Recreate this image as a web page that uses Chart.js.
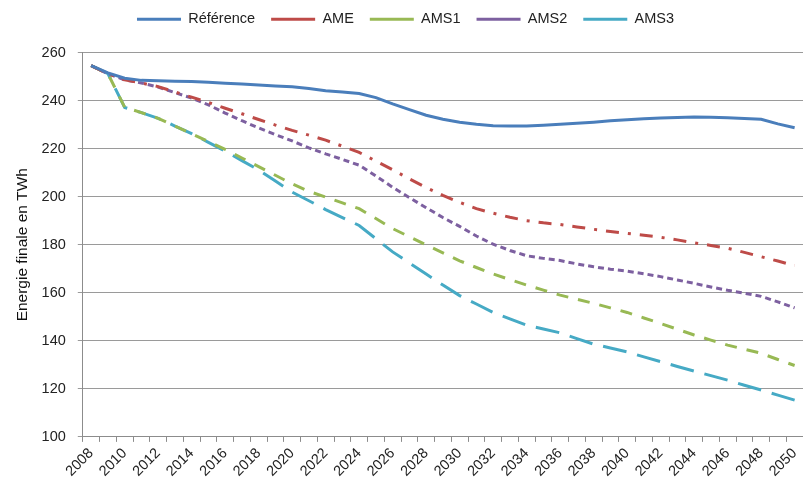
<!DOCTYPE html>
<html>
<head>
<meta charset="utf-8">
<script src="https://cdn.jsdelivr.net/npm/chart.js@4.4.1/dist/chart.umd.min.js"></script>
<style>
  html, body { margin: 0; padding: 0; background: #fff; }
  #chart { display: block; }
</style>
</head>
<body>
<canvas id="chart" width="803" height="488"></canvas>
<script>
// Years 2008 -> 2050
const years = [];
for (let y = 2008; y <= 2050; y++) years.push(String(y));

const reference = [254.5, 251.5, 249.3, 248.4, 248.2, 248.0, 247.9, 247.6, 247.2, 246.9,
  246.5, 246.1, 245.7, 245.0, 244.1, 243.6, 242.9, 241.2, 238.6, 236.2,
  233.9, 232.2, 231.0, 230.1, 229.5, 229.4, 229.4, 229.7, 230.1, 230.5,
  231.0, 231.6, 232.0, 232.4, 232.7, 232.9, 233.2, 233.0, 232.8, 232.5,
  232.2, 230.3, 228.7];
const ame = [254.5, 251.2, 248.6, 247.3, 245.8, 243.6, 241.4, 239.2, 236.8, 234.5,
  232.1, 229.8, 227.6, 225.6, 223.5, 221.0, 218.4, 214.8, 211.2, 207.4,
  203.8, 200.5, 197.6, 195.0, 193.1, 191.4, 190.0, 189.1, 188.4, 187.4,
  186.4, 185.5, 184.7, 183.9, 183.1, 182.0, 180.8, 179.7, 178.5, 176.8,
  175.0, 173.2, 171.3];
const ams1 = [254.5, 251.2, 237.2, 235.0, 232.6, 229.4, 226.2, 222.9, 219.7, 216.1,
  212.5, 208.9, 205.3, 202.2, 199.8, 197.4, 195.0, 190.9, 186.7, 183.3,
  179.9, 176.6, 173.3, 170.5, 167.8, 165.5, 163.2, 161.1, 159.0, 157.3,
  155.6, 153.7, 151.8, 149.5, 147.2, 144.8, 142.4, 140.3, 138.2, 136.5,
  134.8, 132.2, 129.7];
const ams2 = [254.5, 251.2, 248.6, 247.3, 245.6, 243.3, 241.0, 238.2, 234.8, 231.6,
  228.6, 225.8, 223.2, 220.3, 217.8, 215.5, 213.1, 208.6, 203.9, 199.6,
  195.4, 191.3, 187.6, 183.6, 180.2, 177.6, 175.4, 174.3, 173.4, 172.0,
  170.8, 169.8, 169.0, 167.9, 166.7, 165.3, 163.9, 162.4, 161.0, 159.8,
  158.5, 156.2, 153.7];
const ams3 = [254.5, 251.2, 237.1, 235.0, 232.6, 229.4, 226.2, 222.6, 219.0, 215.0,
  211.1, 206.5, 201.9, 198.3, 194.6, 191.3, 188.0, 182.5, 177.0, 172.4,
  167.8, 163.2, 158.8, 155.3, 151.8, 149.1, 146.5, 144.9, 143.3, 140.9,
  138.6, 137.0, 135.4, 133.3, 131.3, 129.3, 127.4, 125.5, 123.6, 121.5,
  119.5, 117.4, 115.3];

const FONT = "'Liberation Sans', Arial, sans-serif";

function line(label, data, color, dash) {
  return {
    label: label,
    data: data,
    borderColor: color,
    backgroundColor: color,
    borderWidth: 3,
    borderDash: dash,
    pointRadius: 0,
    pointHoverRadius: 0,
    tension: 0,
    fill: false
  };
}

// extra room under the legend
const legendSpacer = {
  id: 'legendSpacer',
  beforeLayout(chart) {
    const lg = chart.legend;
    if (lg && !lg._spaced) {
      const fit = lg.fit;
      lg.fit = function () { fit.call(this); this.height += 16; };
      lg._spaced = true;
    }
  }
};

const ctx = document.getElementById('chart').getContext('2d');
new Chart(ctx, {
  type: 'line',
  data: {
    labels: years,
    datasets: [
      line('Référence', reference, '#4A7EBB', []),
      line('AME', ame, '#BE4B48', [13, 9, 3, 9]),
      line('AMS1', ams1, '#98B954', [12, 10]),
      line('AMS2', ams2, '#7D60A0', [6, 4]),
      line('AMS3', ams3, '#46AAC5', [24, 11])
    ]
  },
  plugins: [legendSpacer],
  options: {
    responsive: false,
    animation: false,
    layout: { padding: { top: -4, right: 0, left: 8, bottom: 5 } },
    plugins: {
      legend: {
        position: 'top',
        labels: {
          usePointStyle: true,
          pointStyle: 'line',
          pointStyleWidth: 44,
          boxHeight: 14,
          padding: 16,
          color: '#222',
          font: { family: FONT, size: 14.5 }
        }
      },
      tooltip: { enabled: false }
    },
    scales: {
      x: {
        offset: true,
        afterFit: function (scale) { scale.paddingRight = 0; },
        grid: {
          offset: true,
          drawOnChartArea: false,
          drawTicks: true,
          tickLength: 5,
          color: '#8c8c8c'
        },
        border: { color: '#8c8c8c' },
        ticks: {
          autoSkip: false,
          minRotation: 45,
          maxRotation: 45,
          color: '#222',
          font: { family: FONT, size: 14.5 },
          callback: function (v, i) { return i % 2 === 0 ? years[i] : ''; }
        }
      },
      y: {
        min: 100,
        max: 260,
        ticks: {
          stepSize: 20,
          color: '#222',
          padding: 12,
          font: { family: FONT, size: 14.5 }
        },
        grid: { color: '#9a9a9a', tickLength: 5 },
        border: { color: '#8c8c8c' },
        title: {
          display: true,
          text: 'Energie finale en TWh',
          color: '#111',
          padding: { top: 5, bottom: -2 },
          font: { family: FONT, size: 15.5 }
        }
      }
    }
  }
});
</script>
</body>
</html>
